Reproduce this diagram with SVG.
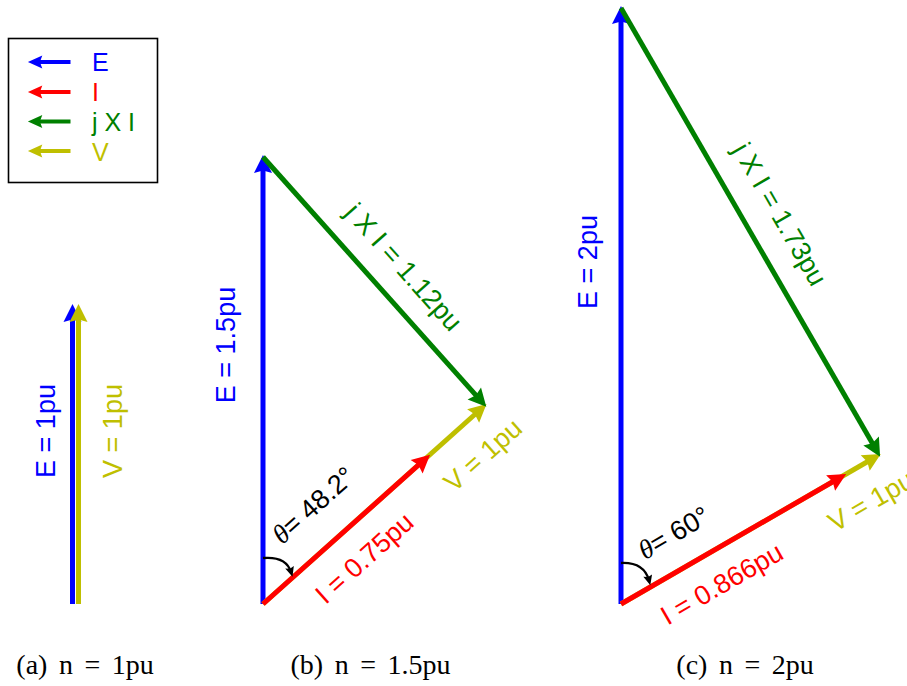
<svg xmlns="http://www.w3.org/2000/svg" width="907" height="686" viewBox="0 0 907 686">
<style>
.v{fill:none;stroke-width:5;stroke-linecap:butt}
.lg{fill:none;stroke-width:4}
.b{stroke:#0000ff}.r{stroke:#ff0000}.g{stroke:#008000}.y{stroke:#bfbf00}
.lbl{font-family:"Liberation Sans",Arial,sans-serif;font-size:27px;text-anchor:middle}
.ltx{font-family:"Liberation Sans",Arial,sans-serif;font-size:25px}
.cap{font-family:"Liberation Serif","Times New Roman",serif;font-size:28px;text-anchor:middle;word-spacing:4.5px}
.th{font-family:"Liberation Serif",serif;font-style:italic}
.arc{fill:none;stroke:#000;stroke-width:2.3}
</style>
<defs>
<marker id="mb" markerUnits="userSpaceOnUse" orient="auto" refX="0" refY="0" markerWidth="30" markerHeight="30" viewBox="-10 -10 25 20" overflow="visible"><path d="M10,0 L-5,-7.5 L-3,0 L-5,7.5 Z" fill="#0000ff"/></marker>
<marker id="mr" markerUnits="userSpaceOnUse" orient="auto" refX="0" refY="0" markerWidth="30" markerHeight="30" viewBox="-10 -10 25 20" overflow="visible"><path d="M10,0 L-5,-7.5 L-3,0 L-5,7.5 Z" fill="#ff0000"/></marker>
<marker id="mg" markerUnits="userSpaceOnUse" orient="auto" refX="0" refY="0" markerWidth="30" markerHeight="30" viewBox="-10 -10 25 20" overflow="visible"><path d="M10,0 L-5,-7.5 L-3,0 L-5,7.5 Z" fill="#008000"/></marker>
<marker id="my" markerUnits="userSpaceOnUse" orient="auto" refX="0" refY="0" markerWidth="30" markerHeight="30" viewBox="-10 -10 25 20" overflow="visible"><path d="M10,0 L-5,-7.5 L-3,0 L-5,7.5 Z" fill="#bfbf00"/></marker>
<marker id="lb" markerUnits="userSpaceOnUse" orient="auto" refX="0" refY="0" markerWidth="30" markerHeight="30" viewBox="-10 -10 25 20" overflow="visible"><path d="M8,0 L-4,-5.5 L-2,0 L-4,5.5 Z" fill="#0000ff"/></marker>
<marker id="lr" markerUnits="userSpaceOnUse" orient="auto" refX="0" refY="0" markerWidth="30" markerHeight="30" viewBox="-10 -10 25 20" overflow="visible"><path d="M8,0 L-4,-5.5 L-2,0 L-4,5.5 Z" fill="#ff0000"/></marker>
<marker id="lgm" markerUnits="userSpaceOnUse" orient="auto" refX="0" refY="0" markerWidth="30" markerHeight="30" viewBox="-10 -10 25 20" overflow="visible"><path d="M8,0 L-4,-5.5 L-2,0 L-4,5.5 Z" fill="#008000"/></marker>
<marker id="ly" markerUnits="userSpaceOnUse" orient="auto" refX="0" refY="0" markerWidth="30" markerHeight="30" viewBox="-10 -10 25 20" overflow="visible"><path d="M8,0 L-4,-5.5 L-2,0 L-4,5.5 Z" fill="#bfbf00"/></marker>
<marker id="mk" markerUnits="userSpaceOnUse" orient="auto" refX="0" refY="0" markerWidth="20" markerHeight="20" viewBox="-10 -10 20 20" overflow="visible"><path d="M5,0 L-5,-4.5 L-3.5,0 L-5,4.5 Z" fill="#000"/></marker>
</defs>
<rect width="907" height="686" fill="#fff"/>

<g id="legend">
<rect x="8.5" y="38.5" width="149" height="144" fill="#fff" stroke="#000" stroke-width="1.6"/>
<line class="lg b" x1="70.5" y1="62" x2="37.5" y2="62" marker-end="url(#lb)"/>
<line class="lg r" x1="70.5" y1="92" x2="37.5" y2="92" marker-end="url(#lr)"/>
<line class="lg g" x1="70.5" y1="121.5" x2="37.5" y2="121.5" marker-end="url(#lgm)"/>
<line class="lg y" x1="70.5" y1="151" x2="37.5" y2="151" marker-end="url(#ly)"/>
<text class="ltx" x="92" y="71" fill="#0000ff">E</text>
<text class="ltx" x="92" y="101" fill="#ff0000">I</text>
<text class="ltx" x="92" y="131" fill="#008000">j X I</text>
<text class="ltx" x="92" y="161" fill="#bfbf00">V</text>
</g>

<g id="connectors">
<line class="v b" x1="72.5" y1="604" x2="72.5" y2="316" marker-end="url(#mb)"/>
<line class="v y" x1="78.5" y1="604" x2="78.5" y2="316" marker-end="url(#my)"/>
<line class="v b" x1="263" y1="604" x2="263" y2="167" marker-end="url(#mb)"/>
<line class="v y" x1="263" y1="604" x2="477.6" y2="412" marker-end="url(#my)"/>
<line class="v r" x1="263" y1="604" x2="421.1" y2="462.7" marker-end="url(#mr)"/>
<line class="v g" x1="263" y1="157" x2="478.3" y2="397.9" marker-end="url(#mg)"/>
<path class="arc" d="M263,558 Q286,556 291,572" marker-end="url(#mk)"/>
<line class="v b" x1="621" y1="604" x2="621" y2="18" marker-end="url(#mb)"/>
<line class="v y" x1="621" y1="604" x2="870.4" y2="460" marker-end="url(#my)"/>
<line class="v r" x1="621" y1="604" x2="835.8" y2="480" marker-end="url(#mr)"/>
<line class="v g" x1="621" y1="8" x2="874.1" y2="446.3" marker-end="url(#mg)"/>
<path class="arc" d="M621,563 Q644,562 649,580.5" marker-end="url(#mk)"/>
</g>

<g id="labels-a">
<text class="lbl" transform="translate(54.5,431) rotate(-90)" fill="#0000ff">E = 1pu</text>
<text class="lbl" transform="translate(122,431) rotate(-90)" fill="#bfbf00">V = 1pu</text>
</g>
<g id="labels-b">
<text class="lbl" transform="translate(234.5,345) rotate(-90)" fill="#0000ff">E = 1.5pu</text>
<text class="lbl" transform="translate(397,273.3) rotate(48.3)" fill="#008000">j X I = 1.12pu</text>
<text class="lbl" transform="translate(370.5,565) rotate(-41.8)" fill="#ff0000">I = 0.75pu</text>
<text class="lbl" transform="translate(489,462) rotate(-41.8)" fill="#bfbf00">V = 1pu</text>
<text class="lbl" transform="translate(319.5,512) rotate(-41.8)" fill="#000"><tspan class="th">θ</tspan>= 48.2°</text>
</g>
<g id="labels-c">
<text class="lbl" transform="translate(772,218.9) rotate(60)" fill="#008000">j X I = 1.73pu</text>
<text class="lbl" transform="translate(596.5,262) rotate(-90)" fill="#0000ff">E = 2pu</text>
<text class="lbl" transform="translate(726.4,591.8) rotate(-30)" fill="#ff0000">I = 0.866pu</text>
<text class="lbl" transform="translate(875.5,509) rotate(-30)" fill="#bfbf00">V = 1pu</text>
<text class="lbl" transform="translate(678.4,540.8) rotate(-30)" fill="#000"><tspan class="th">θ</tspan>= 60°</text>
</g>

<g id="captions">
<text class="cap" x="85" y="674">(a) n = 1pu</text>
<text class="cap" x="370.5" y="674">(b) n = 1.5pu</text>
<text class="cap" x="745" y="674">(c) n = 2pu</text>
</g>
</svg>
